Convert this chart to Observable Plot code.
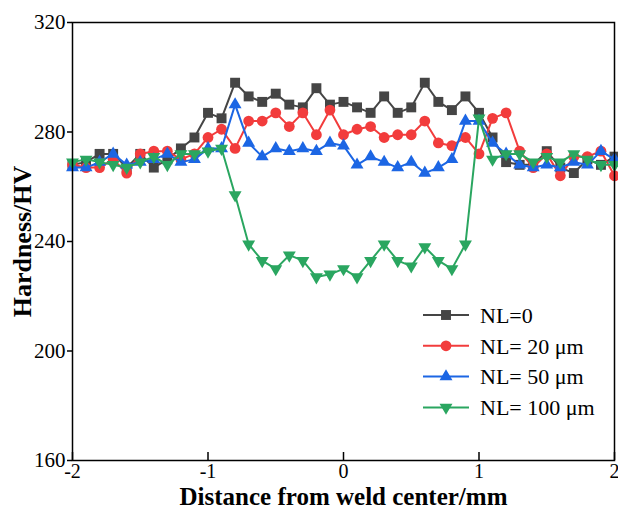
<!DOCTYPE html>
<html>
<head>
<meta charset="utf-8">
<script src="https://cdn.jsdelivr.net/npm/d3@7"></script>
<script src="https://cdn.jsdelivr.net/npm/@observablehq/plot@0.6"></script>
<style>
  html, body { margin: 0; padding: 0; background: white; }
  #chart { width: 618px; height: 509px; position: relative; }
</style>
</head>
<body>
<div id="chart"></div>
<script>
// Distance from weld center (mm)
const distance = [-2.0,-1.9,-1.8,-1.7,-1.6,-1.5,-1.4,-1.3,-1.2,-1.1,-1.0,-0.9,-0.8,-0.7,-0.6,-0.5,-0.4,-0.3,-0.2,-0.1,0.0,
                  0.1,0.2,0.3,0.4,0.5,0.6,0.7,0.8,0.9,1.0,1.1,1.2,1.3,1.4,1.5,1.6,1.7,1.8,1.9,2.0];
// Hardness (HV) per series
const nl0   = [268,269,272,272,267,272,267,270,274,278,287,285,298,293,291,294,290,289,296,290,291,
               289,287,293,287,289,298,291,288,293,287,278,269,268,268,273,267,265,270,268,271];
const nl20  = [268,267,267,270,265,272,273,273,270,272,278,281,274,284,284,287,282,287,279,288,279,
               281,282,278,279,279,284,276,275,278,272,285,287,273,267,272,264,271,271,273,264];
const nl50  = [267,267,269,272,268,269,270,272,269,270,274,274,290,276,271,274,273,274,273,276,275,
               268,271,269,267,269,265,267,270,284,284,276,272,268,267,268,267,269,268,273,270];
const nl100 = [269,270,269,268,267,269,271,268,272,272,273,274,257,239,233,230,235,233,227,228,230,
               227,233,239,233,231,238,233,230,239,285,270,272,272,269,271,269,272,270,268,268];

const seriesNames = ["NL=0", "NL= 20 \u03bcm", "NL= 50 \u03bcm", "NL= 100 \u03bcm"];
const seriesValues = [nl0, nl20, nl50, nl100];
const xTicks = [-2, -1, 0, 1, 2];
const yTicks = [160, 200, 240, 280, 320];
const xTitle = "Distance from weld center/mm";
const yTitle = "Hardness/HV";

const colors = ["#454545", "#f23c3c", "#1c66e4", "#2aa660"];
const sqrt3 = Math.sqrt(3);
const triangleDown = {
  draw(context, size) {
    const y = -Math.sqrt(size / (sqrt3 * 3));
    context.moveTo(0, -y * 2);
    context.lineTo(-sqrt3 * y, y);
    context.lineTo(sqrt3 * y, y);
    context.closePath();
  }
};
const symbols = ["square", "circle", "triangle", triangleDown];
const radii = [5.6, 5.4, 4.8, 4.8];

const tables = seriesValues.map((vals, i) =>
  distance.map((d, j) => ({x: d, y: vals[j], series: seriesNames[i]})));

const marks = [];
tables.forEach((rows, i) => {
  marks.push(Plot.line(rows, {x: "x", y: "y", stroke: colors[i], strokeWidth: 2}));
  marks.push(Plot.dot(rows, {x: "x", y: "y", fill: colors[i], stroke: "none", symbol: symbols[i], r: radii[i]}));
});

const plot = Plot.plot({
  width: 618,
  height: 509,
  marginLeft: 72,
  marginRight: 4,
  marginTop: 22,
  marginBottom: 49,
  style: {fontFamily: "'Liberation Serif', 'Times New Roman', serif", fontSize: "21px", color: "black", background: "white", overflow: "visible"},
  x: {domain: [-2, 2]},
  y: {domain: [160, 320]},
  marks: [
    ...marks,
    Plot.frame({stroke: "black", strokeWidth: 1.5}),
    Plot.axisX(xTicks, {tickSize: -8, tickPadding: 11, tickFormat: d => String(d), fontSize: 20, label: null, strokeWidth: 1.5}),
    Plot.axisY(yTicks, {tickSize: 5, tickPadding: 2, tickFormat: d => String(d), fontSize: 21, label: null, strokeWidth: 1.5}),
    Plot.text([yTitle], {frameAnchor: "left", textAnchor: "middle", lineAnchor: "middle", rotate: -90, dx: -50, fontSize: 26, fontWeight: "bold", text: d => d}),
    Plot.text([xTitle], {frameAnchor: "bottom", textAnchor: "middle", lineAnchor: "middle", dy: 36, fontSize: 25, fontWeight: "bold", text: d => d})
  ]
});

document.getElementById("chart").appendChild(plot);

// Legend (inside plot area, lower right)
const svg = d3.select(plot);
const legend = svg.append("g")
  .attr("transform", "translate(423,315)")
  .attr("font-family", "'Liberation Serif', 'Times New Roman', serif")
  .attr("font-size", 22)
  .attr("text-anchor", "start");
seriesNames.forEach((name, i) => {
  const g = legend.append("g").attr("transform", `translate(0,${i * 30.8})`);
  g.append("line").attr("x1", 0).attr("x2", 46).attr("y1", 0).attr("y2", 0)
    .attr("stroke", colors[i]).attr("stroke-width", 2);
  const sym = typeof symbols[i] === "string"
    ? {square: d3.symbolSquare, circle: d3.symbolCircle, triangle: d3.symbolTriangle}[symbols[i]]
    : symbols[i];
  g.append("path").attr("transform", "translate(23,0)")
    .attr("d", d3.symbol(sym, Math.PI * radii[i] * radii[i])())
    .attr("fill", colors[i]);
  g.append("text").attr("x", 57).attr("y", 0).attr("dy", "0.35em").attr("fill", "black").text(name);
});
</script>
</body>
</html>
